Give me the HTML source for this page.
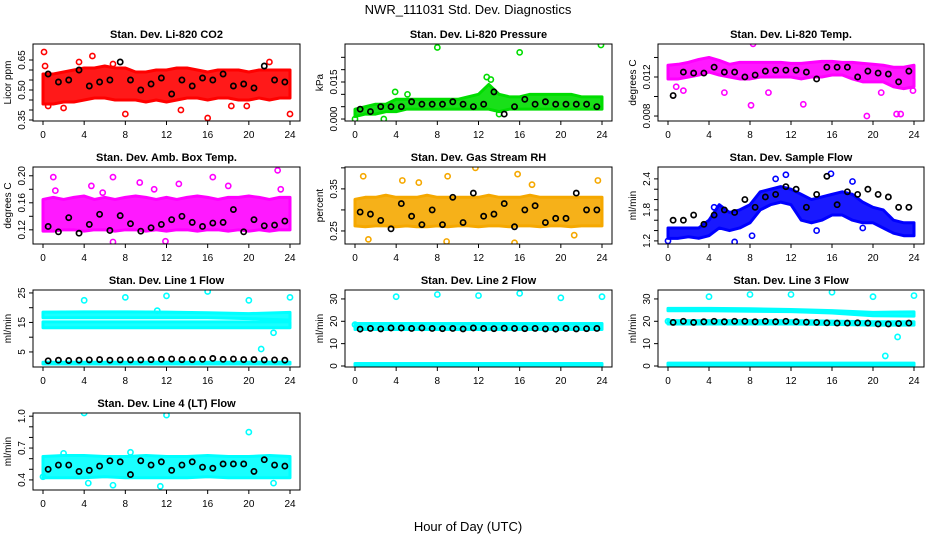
<!DOCTYPE html>
<html><head><meta charset="utf-8"><style>
body{margin:0;background:#fff;}
svg{display:block;font-family:"Liberation Sans",sans-serif;}
</style></head><body>
<svg id="chart" width="936" height="540" viewBox="0 0 936 540">
<text x="468" y="14" text-anchor="middle" font-size="13">NWR_111031  Std. Dev. Diagnostics</text>
<text x="468" y="531" text-anchor="middle" font-size="13">Hour of Day (UTC)</text>
</svg>
<script>
const xTicks = [0,4,8,12,16,20,24];
const titles = ["Stan. Dev. Li-820 CO2","Stan. Dev. Li-820 Pressure","Stan. Dev. Li-820 Temp.","Stan. Dev. Amb. Box Temp.","Stan. Dev. Gas Stream RH","Stan. Dev. Sample Flow","Stan. Dev. Line 1 Flow","Stan. Dev. Line 2 Flow","Stan. Dev. Line 3 Flow","Stan. Dev. Line 4 (LT) Flow"];
const yLabels = ["Licor ppm","kPa","degrees C","degrees C","percent","ml/min","ml/min","ml/min","ml/min","ml/min"];
const yRanges = [[0.345,0.73],[-0.0008,0.0304],[0.00749,0.01538],[0.099,0.213],[0.219,0.402],[1.14,2.63],[-0.1,26],[-0.45,34],[-0.45,34],[0.305,1.03]];
const yTicks = [[0.35,0.40,0.45,0.50,0.55,0.60,0.65],[0,0.005,0.010,0.015,0.020,0.025],[0.008,0.010,0.012,0.014],[0.12,0.14,0.16,0.18,0.20],[0.25,0.30,0.35,0.40],[1.2,1.4,1.6,1.8,2.0,2.2,2.4],[5,10,15,20,25],[0,10,20,30],[0,10,20,30],[0.4,0.5,0.6,0.7,0.8,0.9,1.0]];
const yTickLabels = [["0.35","","","0.50","","","0.65"],["0.000","","","0.015","",""],["0.008","","0.012",""],["0.12","","0.16","","0.20"],["0.25","","0.35",""],["1.2","","","1.8","","","2.4"],["5","","15","","25"],["0","10","20","30"],["0","10","20","30"],["0.4","","","0.7","","","1.0"]];
const colors = ["#ff0000","#00dd00","#ff00ff","#ff00ff","#f5a800","#0000ff","#00ffff","#00ffff","#00ffff","#00ffff"];
const bandsLo = [
 [[0.43,0.43,0.44,0.44,0.45,0.46,0.46,0.45,0.45,0.45,0.44,0.45,0.44,0.45,0.46,0.46,0.45,0.46,0.46,0.45,0.45,0.46,0.45,0.46,0.46]],
 [[0.001,0.002,0.002,0.003,0.003,0.004,0.004,0.004,0.004,0.004,0.004,0.004,0.004,0.004,0.003,0.004,0.004,0.004,0.004,0.004,0.004,0.004,0.004,0.004,0.004]],
 [[0.0118,0.0118,0.0120,0.0122,0.0125,0.0122,0.0120,0.0118,0.0118,0.0120,0.0120,0.0120,0.0120,0.0118,0.0120,0.0120,0.0122,0.0122,0.0118,0.0115,0.0115,0.0115,0.0110,0.0108,0.0110]],
 [[0.118,0.118,0.12,0.12,0.118,0.12,0.12,0.118,0.12,0.12,0.118,0.12,0.118,0.12,0.12,0.118,0.12,0.12,0.118,0.12,0.118,0.12,0.118,0.12,0.12]],
 [[0.262,0.26,0.262,0.262,0.26,0.262,0.26,0.26,0.262,0.26,0.262,0.262,0.26,0.262,0.262,0.26,0.262,0.262,0.26,0.262,0.262,0.26,0.262,0.262,0.262]],
 [[1.25,1.25,1.28,1.25,1.3,1.45,1.4,1.45,1.55,1.8,1.9,1.95,1.9,1.6,1.55,1.6,1.7,1.7,1.6,1.55,1.55,1.45,1.35,1.3,1.3]],
 [[16.6,16.6,16.6,16.6,16.6,16.3,15.8],[13.2,13.2,13.2,13.2,13.2,13.2,13.2],[0.9,0.9,0.9,0.9,0.9,0.9,0.9]],
 [[16.3,16.3,16.3,16.3,16.3,16.3,16.3],[0.2,0.2,0.2,0.2,0.2,0.2,0.2]],
 [[24.7,24.7,24.5,24.3,23.7,22.5,22.3],[18.8,18.8,18.8,18.8,18.6,18.3,18.3],[0.3,0.3,0.3,0.3,0.3,0.3,0.3]],
 [[0.42,0.42,0.42,0.43,0.42,0.42,0.42,0.42,0.43,0.42,0.42,0.42,0.42]]
];
const bandsHi = [
 [[0.58,0.58,0.59,0.60,0.61,0.61,0.62,0.61,0.61,0.59,0.59,0.60,0.60,0.61,0.61,0.60,0.59,0.60,0.60,0.60,0.59,0.60,0.60,0.60,0.60]],
 [[0.004,0.005,0.006,0.006,0.008,0.008,0.008,0.008,0.008,0.008,0.008,0.009,0.010,0.014,0.010,0.009,0.009,0.010,0.010,0.010,0.010,0.010,0.009,0.009,0.009]],
 [[0.0132,0.0133,0.0135,0.0138,0.0140,0.0137,0.0133,0.0135,0.0135,0.0135,0.0135,0.0135,0.0134,0.0134,0.0135,0.0136,0.0136,0.0135,0.0135,0.0134,0.0133,0.0132,0.0130,0.0130,0.0132]],
 [[0.165,0.168,0.165,0.168,0.17,0.165,0.168,0.165,0.168,0.17,0.168,0.165,0.168,0.165,0.168,0.17,0.168,0.165,0.168,0.168,0.17,0.168,0.165,0.168,0.168]],
 [[0.325,0.33,0.33,0.335,0.33,0.33,0.33,0.335,0.33,0.33,0.33,0.33,0.33,0.335,0.33,0.33,0.33,0.335,0.33,0.33,0.33,0.33,0.33,0.33,0.33]],
 [[1.45,1.45,1.45,1.45,1.6,1.9,1.75,1.8,1.9,2.15,2.2,2.25,2.2,2.1,2.0,2.05,2.1,2.15,2.1,1.95,1.85,1.8,1.6,1.55,1.55]],
 [[18.5,18.6,18.6,18.5,18.3,18,18.4],[15.2,15.2,15.2,15.2,15.2,15.2,15.2],[1.5,1.5,1.5,1.5,1.5,1.5,1.5]],
 [[19,19,19,19,19,19,19],[1.1,1.1,1.1,1.1,1.1,1.1,1.1]],
 [[25.8,25.8,25.6,25.3,24.8,24,24.2],[20.3,20.3,20.3,20.3,20.1,19.8,19.8],[1.3,1.3,1.3,1.3,1.3,1.3,1.3]],
 [[0.62,0.63,0.63,0.62,0.62,0.63,0.62,0.62,0.63,0.62,0.62,0.63,0.62]]
];
const outliers = [
 [[0.1,0.69],[4.8,0.67],[8,0.38],[16,0.36],[24,0.38],[0.2,0.62],[3.5,0.64],[13.4,0.40],[19.8,0.42],[22,0.64],[0.5,0.42],[2,0.41],[6.8,0.63],[18.3,0.42]],
 [[8,0.029],[16,0.027],[23.9,0.030],[12.8,0.017],[13.2,0.016],[0,0],[2.8,0],[3.9,0.011],[5.1,0.010],[14,0.002]],
 [[8.1,0.0091],[13.2,0.0092],[19.4,0.0080],[22.3,0.0082],[22.7,0.0082],[5.5,0.0104],[1.5,0.0106],[9.8,0.0104],[20.8,0.0104],[8.3,0.0154],[0.8,0.0110],[23.9,0.0106]],
 [[1,0.198],[6.8,0.198],[16.5,0.198],[22.8,0.208],[4.7,0.185],[9.4,0.19],[13.2,0.188],[18,0.185],[6.8,0.102],[11.9,0.103],[5.8,0.175],[23.1,0.18],[1.2,0.178],[10.8,0.18]],
 [[0.8,0.38],[4.6,0.37],[6.2,0.365],[11.7,0.40],[9,0.38],[15.8,0.385],[17.2,0.36],[23.6,0.37],[1.3,0.23],[8.9,0.225],[15.5,0.222],[21.3,0.24]],
 [[11.5,2.48],[15.9,2.5],[18,2.35],[6.5,1.18],[0,1.2],[8.2,1.3],[10.5,2.4],[4.5,1.85],[14.5,1.4],[19,1.45]],
 [[4,22.5],[8,23.5],[12,24],[16,25.5],[20,22.5],[24,23.5],[21.2,6],[22.4,11.5],[11.1,19]],
 [[4,31],[8,32],[12,31.5],[16,32.5],[20,30.5],[24,31],[0,18.5]],
 [[4,31],[8,32],[12,32],[16,33],[20,31],[24,31.5],[21.2,4.5],[22.4,13],[0,20]],
 [[4,1.03],[12,1.01],[20,0.85],[11.4,0.34],[6.8,0.35],[2,0.65],[8.5,0.66],[0,0.43],[22.4,0.37],[4.4,0.37]]
];
const blackVals = [
 [0.58,0.54,0.55,0.60,0.52,0.54,0.55,0.64,0.55,0.50,0.53,0.56,0.48,0.55,0.52,0.56,0.55,0.58,0.52,0.53,0.51,0.62,0.55,0.54],
 [0.004,0.003,0.005,0.005,0.005,0.007,0.006,0.006,0.006,0.007,0.006,0.005,0.006,0.011,0.002,0.005,0.008,0.006,0.007,0.006,0.006,0.006,0.006,0.005],
 [0.0101,0.0125,0.0124,0.0124,0.0130,0.0125,0.0125,0.0120,0.0122,0.0126,0.0127,0.0127,0.0127,0.0125,0.0118,0.0130,0.0130,0.0130,0.0120,0.0126,0.0124,0.0123,0.0115,0.0126],
 [0.125,0.117,0.138,0.115,0.128,0.143,0.119,0.141,0.129,0.118,0.123,0.128,0.135,0.140,0.131,0.125,0.130,0.131,0.150,0.117,0.135,0.126,0.127,0.133],
 [0.295,0.29,0.275,0.255,0.315,0.285,0.265,0.30,0.265,0.33,0.27,0.34,0.285,0.29,0.315,0.26,0.30,0.31,0.27,0.28,0.28,0.34,0.30,0.30],
 [1.6,1.6,1.7,1.52,1.7,1.8,1.75,2.0,1.85,2.05,2.1,2.25,2.2,1.85,2.1,2.45,1.9,2.15,2.1,2.2,2.1,2.05,1.85,1.85],
 [2,2.2,2.1,2.2,2.3,2.4,2.2,2.3,2.3,2.3,2.4,2.5,2.6,2.4,2.4,2.5,2.8,2.5,2.6,2.4,2.4,2.3,2.3,2.2],
 [16.5,16.8,16.6,17,17,16.8,17,16.8,16.7,16.8,16.6,17,16.8,16.7,16.9,16.8,16.7,16.8,16.6,16.5,16.8,16.6,16.7,16.8],
 [19.5,20,19.5,19.8,20,19.8,20,20,19.8,20,19.8,20,19.8,19.6,19.5,19.3,19.2,19.2,19.3,19.2,18.8,18.8,19,19.2],
 [0.5,0.54,0.54,0.48,0.49,0.53,0.58,0.57,0.45,0.58,0.54,0.57,0.49,0.54,0.57,0.52,0.51,0.55,0.55,0.55,0.48,0.59,0.54,0.53]
];
const NS = "http://www.w3.org/2000/svg";
const svg = document.getElementById('chart');
const colX = [[33,300],[345,612],[658,924]];
const rowY = [44,167,290,413];
const boxH = 77;
function mk(tag, attrs, parent){const e=document.createElementNS(NS,tag);for(const k in attrs)e.setAttribute(k,attrs[k]);parent.appendChild(e);return e;}
titles.forEach((t,i)=>{
  const c=i%3, r=Math.floor(i/3);
  const [x0,x1]=colX[c], y0=rowY[r], y1=y0+boxH;
  const xs=v=>x0+10+(x1-x0-20)*v/24;
  const [ymin,ymax]=yRanges[i];
  const ys=v=>y1-(v-ymin)/(ymax-ymin)*boxH;
  const g=mk('g',{},svg);
  
  
  const tt=mk('text',{x:(x0+x1)/2,y:y0-6,'text-anchor':'middle','font-size':'11','font-weight':'bold'},g);
  tt.textContent=t;
  
  
  const clip='clip'+i;
  const cp=mk('clipPath',{id:clip},g);mk('rect',{x:x0,y:y0,width:x1-x0,height:boxH},cp);
  const pg=mk('g',{'clip-path':'url(#'+clip+')'},g);
  bandsLo[i].forEach((lo,b)=>{
    const hi=bandsHi[i][b], n=lo.length;
    let pts=[];
    for(let k=0;k<n;k++)pts.push(xs(k*24/(n-1))+','+ys(hi[k]));
    for(let k=n-1;k>=0;k--)pts.push(xs(k*24/(n-1))+','+ys(lo[k]));
    const p=mk('polygon',{points:pts.join(' '),fill:colors[i],stroke:colors[i],'stroke-width':'3','stroke-linejoin':'round','fill-opacity':'0.9'},pg);
    
    
  });
  outliers[i].forEach(o=>{
    const ci=mk('circle',{cx:xs(o[0]),cy:ys(o[1]),r:2.6,fill:'none',stroke:colors[i],'stroke-width':'1.6'},pg);
    
    
  });
  blackVals[i].forEach((v,k)=>{
    const ci=mk('circle',{cx:xs(k+0.5),cy:ys(v),r:2.6,fill:'none',stroke:'#000','stroke-width':'1.7'},pg);
    
    
  });
  mk('rect',{x:x0,y:y0,width:x1-x0,height:boxH,fill:'none',stroke:'#000','stroke-width':'1'},g);
  xTicks.forEach(v=>{
    mk('line',{x1:xs(v),x2:xs(v),y1:y1,y2:y1+4,stroke:'#000'},g);
    const tl=mk('text',{x:xs(v),y:y1+17,'text-anchor':'middle','font-size':'10'},g);
    tl.textContent=v;
    
    
  });
  yTicks[i].forEach((v,k)=>{
    const yy=ys(v);
    mk('line',{x1:x0-4,x2:x0,y1:yy,y2:yy,stroke:'#000'},g);
    const lab=yTickLabels[i][k];
    if(lab){
      const tl=mk('text',{x:x0-8,y:yy,'text-anchor':'middle','font-size':'10',transform:'rotate(-90 '+(x0-8)+' '+yy+')'},g);
      tl.textContent=lab;
      
      
    }
  });
  const yl=mk('text',{x:x0-22,y:(y0+y1)/2,'text-anchor':'middle','font-size':'10',transform:'rotate(-90 '+(x0-22)+' '+((y0+y1)/2)+')'},g);
  yl.textContent=yLabels[i];
  
  
});
</script>
</body></html>
